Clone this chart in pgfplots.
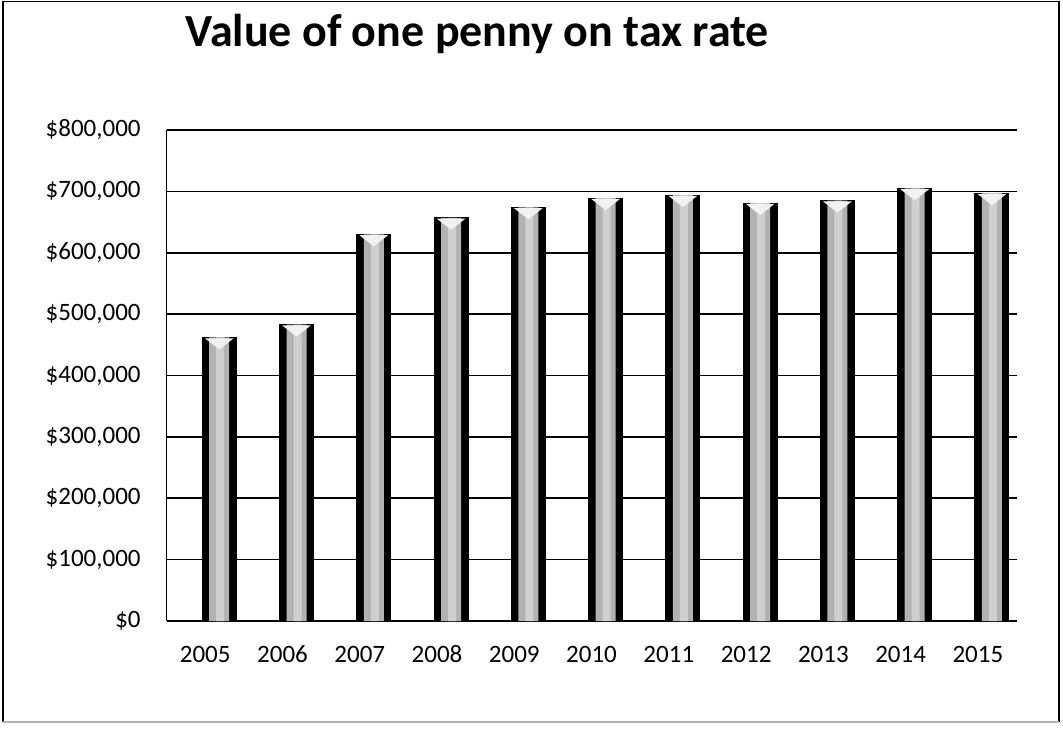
\documentclass[border=0pt]{standalone}
\usepackage{pgfplots}
\pgfplotsset{compat=1.18}
\usepackage{fontspec}
\setmainfont{Carlito}
\pgfdeclareplotmark{vtri}{%
  \pgfpathmoveto{\pgfqpoint{-7.2pt}{-0.4pt}}%
  \pgfpathlineto{\pgfqpoint{7.2pt}{-0.4pt}}%
  \pgfpathlineto{\pgfqpoint{0pt}{-6pt}}%
  \pgfpathclose\pgfusepathqfill}
\pgfplotstableread{
year value
2005 462000
2006 483000
2007 630000
2008 657000
2009 674000
2010 689000
2011 694000
2012 681000
2013 685000
2014 705000
2015 697000
}\datatable
\begin{document}
\begin{tikzpicture}
\path[use as bounding box] (0,0) rectangle (531.5pt,364.5pt);
\draw[black, line width=0.8pt] (1.5pt,3.5pt) -- (1.5pt,363.8pt) -- (529.5pt,363.8pt) -- (529.5pt,3.5pt);
\draw[gray!60, line width=0.8pt] (1.5pt,3.5pt) -- (529.5pt,3.5pt);
\node[anchor=base west, inner sep=0pt, font=\fontsize{23}{27}\selectfont\bfseries] at (92.5pt,341.2pt) {Value of one penny on tax rate};
\begin{axis}[
  at={(83.3pt,54pt)}, anchor=south west,
  scale only axis, width=425pt, height=245.5pt,
  xmin=2004.5, xmax=2015.5,
  ymin=0, ymax=800000,
  axis lines*=left,
  axis line style={black, line width=0.8pt},
  ymajorgrids, grid style={black, line width=0.8pt},
  major tick length=0pt,
  scaled y ticks=false,
  xtick={2005,...,2015},
  xticklabels={2005,2006,2007,2008,2009,2010,2011,2012,2013,2014,2015},
  ytick={0,100000,200000,300000,400000,500000,600000,700000,800000},
  yticklabels={\$0,{\$100,000},{\$200,000},{\$300,000},{\$400,000},{\$500,000},{\$600,000},{\$700,000},{\$800,000}},
  ticklabel style={font=\fontsize{12.5}{14}\selectfont, inner sep=0pt},
  yticklabel style={anchor=east, xshift=-12.8pt},
  xticklabel style={anchor=base, yshift=-20.5pt},
  clip=false,
]
\addplot[ybar, bar width=17pt, bar shift=7pt, draw=black, line width=0.5pt, fill=black]
  table[x=year, y=value] {\datatable};
\addplot[ybar, bar width=10pt, bar shift=7pt, draw=none, fill=gray!60]
  table[x=year, y=value] {\datatable};
\addplot[ybar, bar width=4pt, bar shift=7.5pt, draw=none, fill=gray!38]
  table[x=year, y=value] {\datatable};
\addplot[only marks, mark=vtri, color=gray!10, xshift=7pt]
  table[x=year, y=value] {\datatable};
\end{axis}
\end{tikzpicture}
\end{document}
